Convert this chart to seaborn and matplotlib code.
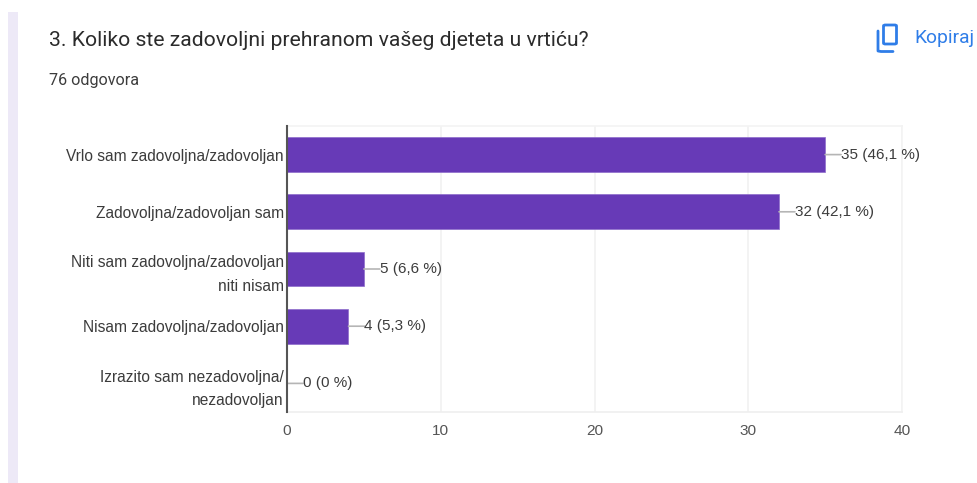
import matplotlib
matplotlib.use("Agg")
import matplotlib.pyplot as plt
from matplotlib.patches import Rectangle, FancyBboxPatch
import pandas as pd
import seaborn as sns

categories = ["Vrlo sam zadovoljna/zadovoljan", "Zadovoljna/zadovoljan sam",
              "Niti sam zadovoljna/zadovoljan\nniti nisam", "Nisam zadovoljna/zadovoljan",
              "Izrazito sam nezadovoljna/\nnezadovoljan"]
counts = [35, 32, 5, 4, 0]
value_labels = ["35 (46,1 %)", "32 (42,1 %)", "5 (6,6 %)", "4 (5,3 %)", "0 (0 %)"]
x_ticks = [0, 10, 20, 30, 40]
title = "3. Koliko ste zadovoljni prehranom vašeg djeteta u vrtiću?"
subtitle = "76 odgovora"
copy_label = "Kopiraj"

W, H = 978, 483
sns.set_theme(style="white")
plt.rcParams["font.family"] = ["Liberation Sans", "DejaVu Sans"]
fig = plt.figure(figsize=(W / 100, H / 100), dpi=100, facecolor="white")
ax = fig.add_axes([287 / W, 1 - 412 / H, (902 - 287) / W, (412 - 126) / H])

df = pd.DataFrame({"category": categories, "count": counts})
sns.barplot(data=df, y="category", x="count", color="#673AB7", saturation=1, width=0.61,
            edgecolor="#8E6CCB", linewidth=0.5, ax=ax, zorder=3)
ax.set_xlim(0, 40)
ax.set_ylim(4.5, -0.5)
ax.set_xlabel("")
ax.set_ylabel("")
ax.set_xticks(x_ticks)
ax.set_xticklabels([str(t) for t in x_ticks], fontsize=11.1, color="#555555")
ax.tick_params(axis="x", length=0, pad=8.5)
ax.tick_params(axis="y", length=0, pad=2.2)
for lab in ax.get_yticklabels():
    lab.set_fontsize(11.2)
    lab.set_color("#3c3c3c")
    lab.set_linespacing(1.7)
ax.xaxis.grid(True, color="#F1F1F1", linewidth=1.2, zorder=0)
ax.yaxis.grid(False)
ax.set_axisbelow(True)
for s in ["top", "right"]:
    ax.spines[s].set_color("#F3F3F3")
    ax.spines[s].set_linewidth(1.2)
ax.spines["bottom"].set_color("#EFEFEF")
ax.spines["bottom"].set_linewidth(1.2)
ax.spines["left"].set_color("#555555")
ax.spines["left"].set_linewidth(1.5)
ax.spines["left"].set_zorder(5)

# value labels with leader lines
for i, (v, txt) in enumerate(zip(counts, value_labels)):
    ax.annotate("", xy=(v, i), xytext=(11.5, 0), textcoords="offset points",
                arrowprops=dict(arrowstyle="-", color="#B5B5B5", lw=1.2, shrinkA=0, shrinkB=0),
                zorder=4)
    ax.annotate(txt, xy=(v, i), xytext=(11.5, 0), textcoords="offset points", va="center",
                ha="left", fontsize=11.0, color="#3c3c3c", zorder=6, annotation_clip=False)

# page furniture
fig.patches.append(Rectangle((8 / W, 0), 10 / W, 1 - 12 / H, transform=fig.transFigure,
                             facecolor="#EDE9F7", edgecolor="none"))
fig.text(49 / W, 1 - 41 / H, title, fontsize=15.25, family=["Roboto", "DejaVu Sans"],
         color="#2b2b2b", va="center", ha="left")
fig.text(49 / W, 1 - 81 / H, subtitle, fontsize=11.6, family=["Roboto", "DejaVu Sans"],
         color="#3c3c3c", va="center", ha="left")
fig.text(914 / W, 1 - 38 / H, copy_label, fontsize=13.9, family=["Roboto", "DejaVu Sans"],
         color="#2F7DE8", va="center", ha="left")
fig.patches.append(FancyBboxPatch((883.5 / W, 1 - 44 / H), 13 / W, 19 / H, transform=fig.transFigure,
                                  boxstyle="round,pad=0,rounding_size=0.002", facecolor="none",
                                  edgecolor="#2F7DE8", linewidth=2))
fig.add_artist(plt.Line2D([878 / W, 878 / W, 881 / W, 893 / W],
                          [1 - 31 / H, 1 - 51 / H, 1 - 51.5 / H, 1 - 51.5 / H],
                          transform=fig.transFigure, color="#2F7DE8", linewidth=2))
fig.savefig("out.png", dpi=100, facecolor="white")
